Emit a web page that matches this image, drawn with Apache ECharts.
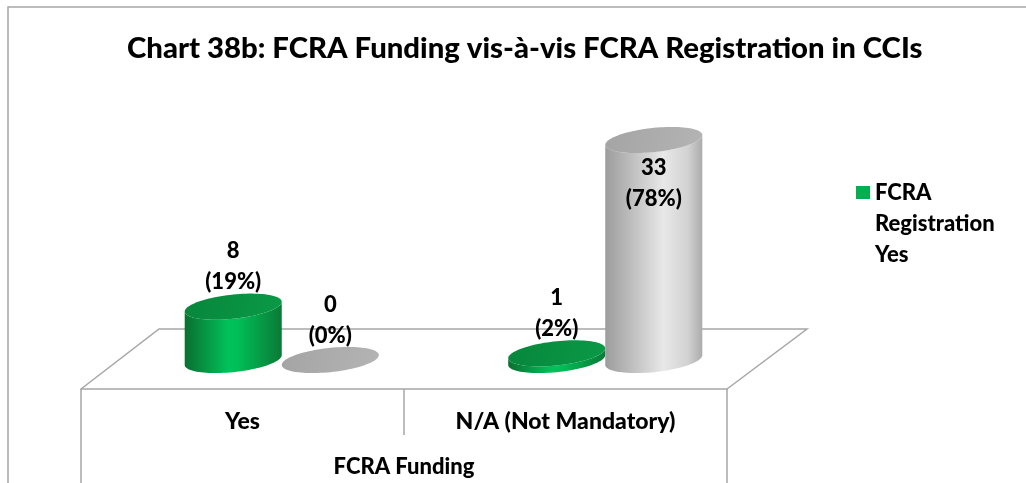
<!DOCTYPE html>
<html>
<head>
<meta charset="utf-8">
<script src="https://cdn.jsdelivr.net/npm/echarts@6/dist/echarts.min.js"></script>
<style>
  html, body { margin: 0; padding: 0; background: #ffffff; }
  #chart { width: 1026px; height: 483px; }
</style>
</head>
<body>
<div id="chart"></div>
<script>
// ---- data ----
const categories = ['Yes', 'N/A (Not Mandatory)'];
const registrationYes = [8, 1];
const registrationNo = [0, 33];
const shareYes = ['19%', '2%'];
const shareNo = ['0%', '78%'];
const seriesNames = ['FCRA Registration Yes', 'FCRA Registration No'];
const valueMax = 40;

const FONT = 'Lato, "Open Sans", sans-serif';
const WEIGHT = 900;
const LINE = '#a6a6a6';

// Palettes for the cylinder faces
const greenPalette = {
  body: [[0, '#0a6f31'], [0.45, '#00c25a'], [0.55, '#00be57'], [1, '#0a7a36']],
  top: [[0, '#07863b'], [1, '#0a9a47']],
  legend: '#00b050'
};
const greyPalette = {
  body: [[0, '#9c9c9c'], [0.6, '#e8e8e8'], [0.85, '#d2d2d2'], [1, '#acacac']],
  top: [[0, '#a4a4a4'], [1, '#b4b4b4']],
  legend: '#a6a6a6'
};

// Draws one 3D cylinder per data item; side = -1 (left of band centre) or +1 (right)
function cylinder(palette, shares, side) {
  return function (params, api) {
    const cat = api.value(0);
    const val = api.value(1);
    const base = api.coord([cat, 0]);
    const top = api.coord([cat, val]);
    const band = api.size([1, 0])[0];
    const rx = band * 0.15;
    const ry = rx * 0.25;
    const k = 0.1;                       // slant of the elliptical caps
    const cx = base[0] + side * rx;
    const yB = base[1];
    const yT = top[1];

    const pt = (cy, t) => [cx + rx * Math.cos(t), cy + ry * Math.sin(t) - k * rx * Math.cos(t)];
    const N = 48;

    // side wall: left edge down, lower half of bottom cap, right edge up, lower half of top cap
    const body = [];
    for (let i = 0; i <= N; i++) body.push(pt(yB, Math.PI - Math.PI * i / N));
    for (let i = 0; i <= N; i++) body.push(pt(yT, Math.PI * i / N));
    const cap = [];
    for (let i = 0; i < 2 * N; i++) cap.push(pt(yT, 2 * Math.PI * i / (2 * N)));

    const grad = (stops, x0, y0, x1, y1) => new echarts.graphic.LinearGradient(
      x0, y0, x1, y1, stops.map(s => ({ offset: s[0], color: s[1] })));

    const children = [
      { type: 'polygon', z2: val * 2, shape: { points: body },
        style: { fill: grad(palette.body, 0, 0, 1, 0) } },
      { type: 'polygon', z2: val * 2 + 1, shape: { points: cap },
        style: { fill: grad(palette.top, 0, 0, 1, 1) } }
    ];

    // value label: above the cap, or inside the column when it would leave the plot
    const text = val + '\n(' + shares[params.dataIndex] + ')';
    const capTop = yT - Math.sqrt(ry * ry + k * k * rx * rx);
    const above = capTop - 66 >= params.coordSys.y;
    children.push({
      type: 'text', z2: 200,
      style: {
        text: text, x: cx, y: above ? capTop + 4 : yT + 12,
        align: 'center', verticalAlign: above ? 'bottom' : 'top',
        font: WEIGHT + ' 22px ' + FONT, lineHeight: 31, fill: '#000'
      }
    });
    return { type: 'group', children: children };
  };
}

const chart = echarts.init(document.getElementById('chart'));

chart.setOption({
  backgroundColor: '#ffffff',
  animation: false,
  title: {
    text: 'Chart 38b: FCRA Funding vis-à-vis FCRA Registration in CCIs',
    left: 122, top: 29,
    textStyle: { fontFamily: FONT, fontWeight: WEIGHT, fontSize: 29.3, color: '#000' }
  },
  legend: {
    data: [seriesNames[0]],
    left: 856, top: 115, padding: 0,
    icon: 'rect', itemWidth: 14, itemHeight: 13, itemGap: 6,
    // two leading blank lines keep the swatch level with the first word
    formatter: name => '\n\n' + name.split(' ').join('\n'),
    textStyle: { fontFamily: FONT, fontWeight: WEIGHT, fontSize: 22, color: '#000', lineHeight: 31 }
  },
  grid: [
    { left: 120, width: 647, bottom: 123, height: 266.67 },
    { left: 81, right: 299, bottom: 94, top: 300 }
  ],
  xAxis: [
    { type: 'category', gridIndex: 0, data: categories, show: false },
    { type: 'category', gridIndex: 1, data: categories,
      axisLine: { lineStyle: { color: LINE, width: 1.5 } },
      axisTick: { show: false },
      axisLabel: { margin: 21, fontFamily: FONT, fontWeight: WEIGHT, fontSize: 23, color: '#000' },
      name: 'FCRA Funding', nameLocation: 'middle', nameGap: 67,
      nameTextStyle: { fontFamily: FONT, fontWeight: WEIGHT, fontSize: 22, color: '#000' } }
  ],
  yAxis: [
    { type: 'value', gridIndex: 0, min: 0, max: valueMax, show: false },
    { type: 'value', gridIndex: 1, show: false }
  ],
  graphic: [
    // chart frame
    { type: 'rect', shape: { x: 8, y: 7, width: 1200, height: 600 },
      style: { fill: 'none', stroke: LINE, lineWidth: 1.5 }, silent: true },
    // floor: back edge and sides
    { type: 'polyline', shape: { points: [[81, 389], [159, 329], [807, 329], [727, 389]] },
      style: { stroke: LINE, lineWidth: 1.5, fill: 'none' }, silent: true },
    // category table dividers
    { type: 'line', shape: { x1: 81, y1: 389, x2: 81, y2: 490 }, style: { stroke: LINE, lineWidth: 1.5 } },
    { type: 'line', shape: { x1: 404, y1: 389, x2: 404, y2: 435 }, style: { stroke: LINE, lineWidth: 1.5 } },
    { type: 'line', shape: { x1: 727, y1: 389, x2: 727, y2: 490 }, style: { stroke: LINE, lineWidth: 1.5 } }
  ],
  series: [
    { name: seriesNames[0], type: 'custom', xAxisIndex: 0, yAxisIndex: 0,
      itemStyle: { color: greenPalette.legend },
      renderItem: cylinder(greenPalette, shareYes, -1),
      data: registrationYes.map((v, i) => [i, v]) },
    { name: seriesNames[1], type: 'custom', xAxisIndex: 0, yAxisIndex: 0,
      itemStyle: { color: greyPalette.legend },
      renderItem: cylinder(greyPalette, shareNo, 1),
      data: registrationNo.map((v, i) => [i, v]) }
  ]
});
</script>
</body>
</html>
